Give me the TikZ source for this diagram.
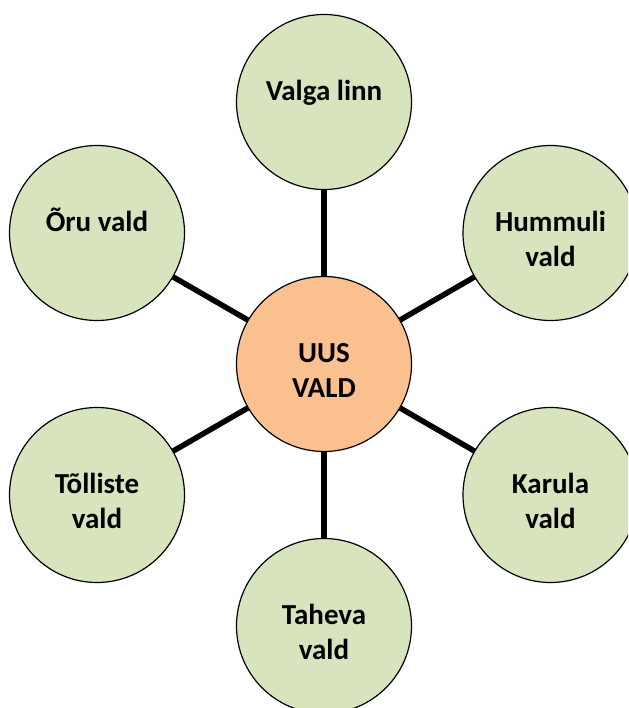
\documentclass[tikz,border=0pt]{standalone}
\usepackage{fontspec}
\setmainfont{Carlito}
\usetikzlibrary{backgrounds}
\definecolor{leafgreen}{HTML}{D7E4BD}
\definecolor{hubpeach}{HTML}{FAC090}
\newcommand{\circtext}[1]{\raisebox{1.5pt}[0pt][0pt]{\fontsize{29}{35.2}\selectfont\bfseries\begin{tabular}[t]{@{}c@{}}#1\end{tabular}}}
\tikzset{
  bubble/.style={circle, draw=black, line width=1.2pt, minimum size=175pt, inner sep=0pt, fill=leafgreen},
  hubbubble/.style={bubble, fill=hubpeach},
  spoke/.style={line width=5.5pt, draw=black}
}
\begin{document}
\begin{tikzpicture}[x=1pt,y=-1pt]
\useasboundingbox (0,0) rectangle (628,708);
\clip (0,0) rectangle (628,708);
\node[hubbubble] (hub) at (324,364) {\circtext{UUS\\VALD}};
\node[bubble] (valga) at (324,102) {\circtext{Valga linn}};
\node[bubble] (oru) at (97,233) {\circtext{Õru vald}};
\node[bubble] (hummuli) at (550.5,233) {\circtext{Hummuli\\vald}};
\node[bubble] (tolliste) at (97,495) {\circtext{Tõlliste\\vald}};
\node[bubble] (karula) at (550.5,495) {\circtext{Karula\\vald}};
\node[bubble] (taheva) at (324,626) {\circtext{Taheva\\vald}};
\begin{scope}[on background layer]
\draw[spoke] (hub.center) -- (valga.center);
\draw[spoke] (hub.center) -- (oru.center);
\draw[spoke] (hub.center) -- (hummuli.center);
\draw[spoke] (hub.center) -- (tolliste.center);
\draw[spoke] (hub.center) -- (karula.center);
\draw[spoke] (hub.center) -- (taheva.center);
\end{scope}
\end{tikzpicture}
\end{document}
